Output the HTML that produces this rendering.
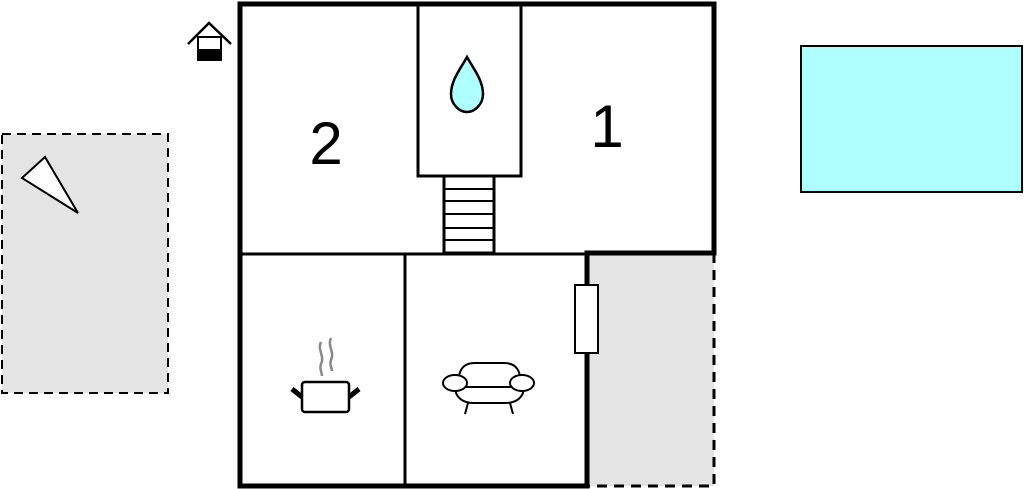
<!DOCTYPE html>
<html><head><style>body{margin:0;background:#fff}svg{display:block}</style></head><body>
<svg width="1024" height="489" viewBox="0 0 1024 489" xmlns="http://www.w3.org/2000/svg">
<rect x="2" y="134" width="166" height="259" fill="#e4e4e4" stroke="#000" stroke-width="2" stroke-dasharray="9,6"/>
<polygon points="22,178 45,157 78,213" fill="#fff" stroke="#000" stroke-width="2"/>
<rect x="801" y="46" width="221" height="146" fill="#b0ffff" stroke="#000" stroke-width="2"/>
<rect x="587" y="253" width="127" height="233" fill="#e4e4e4"/>
<path d="M714,253 V486 H587" fill="none" stroke="#000" stroke-width="3" stroke-dasharray="10,7"/>
<line x1="240" y1="254" x2="587" y2="254" stroke="#000" stroke-width="3"/>
<line x1="405" y1="254" x2="405" y2="486" stroke="#000" stroke-width="3"/>
<rect x="418" y="4" width="103" height="172" fill="#fff" stroke="#000" stroke-width="3"/>
<rect x="444" y="176" width="50" height="77" fill="#fff" stroke="#000" stroke-width="3"/>
<g stroke="#000" stroke-width="2"><line x1="444" y1="189" x2="494" y2="189"/><line x1="444" y1="201" x2="494" y2="201"/><line x1="444" y1="214" x2="494" y2="214"/><line x1="444" y1="228" x2="494" y2="228"/><line x1="444" y1="240" x2="494" y2="240"/></g>
<path d="M467,57 C461,68 451,80 451,94 C451,104 459,112 467,112 C475,112 483,104 483,94 C483,80 473,68 467,57 Z" fill="#b0ffff" stroke="#000" stroke-width="2.5"/>
<path d="M240,486 V4 H714 V253 H587 V486 Z" fill="none" stroke="#000" stroke-width="5"/>
<rect x="575" y="285" width="23" height="68" fill="#fff" stroke="#000" stroke-width="2"/>
<text x="326" y="164" font-family="Liberation Sans, sans-serif" font-size="60" text-anchor="middle">2</text>
<text x="607" y="147" font-family="Liberation Sans, sans-serif" font-size="60" text-anchor="middle">1</text>
<path d="M188,44 L209,23 L231,44" fill="none" stroke="#000" stroke-width="2.5"/>
<rect x="198" y="37" width="23" height="23" fill="#fff" stroke="#000" stroke-width="2"/>
<rect x="197" y="49" width="25" height="12" fill="#000"/>
<g fill="none" stroke="#888" stroke-width="2.5"><path d="M321,342 C317,350 325,356 321,364 C319,369 322,372 322,376"/><path d="M331,338 C327,346 335,352 331,360 C329,365 332,368 332,371"/></g>
<rect x="302" y="382" width="47" height="30" rx="3" fill="#fff" stroke="#000" stroke-width="2.5"/>
<line x1="292" y1="389" x2="302" y2="397" stroke="#000" stroke-width="5"/>
<line x1="359" y1="389" x2="349" y2="397" stroke="#000" stroke-width="5"/>
<g fill="#fff" stroke="#000" stroke-width="2">
<path d="M458,387 C458,371 462,363 475,363 H504 C517,363 521,371 521,387 Z"/>
<path d="M456,387 V393 C459,400 465,403 474,403 H505 C514,403 520,400 523,393 V387 Z"/>
<ellipse cx="455" cy="383" rx="12" ry="8"/>
<ellipse cx="522" cy="383" rx="12" ry="8"/>
<line x1="468" y1="403" x2="465" y2="414"/><line x1="510" y1="403" x2="513" y2="414"/>
</g>
</svg>
</body></html>
